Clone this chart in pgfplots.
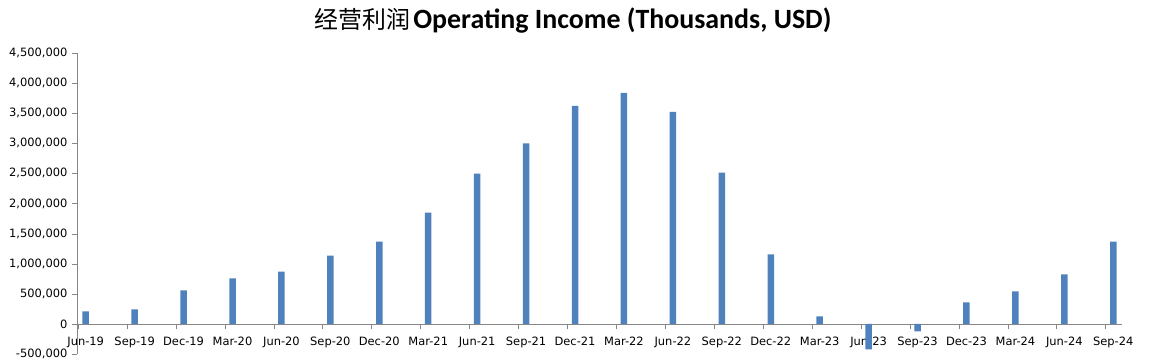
\documentclass[border=0pt]{standalone}
\usepackage{fontspec}
\setmainfont{DejaVu Sans}
\newfontfamily\cjk{Noto Sans CJK SC}
\newfontfamily\titlefont{Carlito}
\usepackage{pgfplots}
\pgfplotsset{compat=1.18}
\definecolor{barblue}{HTML}{4F81BD}
\definecolor{axgray}{HTML}{868686}
\begin{document}
\begin{tikzpicture}[x=1bp,y=1bp]
\path[use as bounding box] (0,0) rectangle (1151,359);
\begin{axis}[
  at={(77bp,5bp)}, anchor=south west,
  scale only axis, width=1045bp, height=301bp,
  xmin=-0.178, xmax=21.178, ymin=-500000, ymax=4500000,
  axis x line*=middle, axis y line*=left,
  x axis line style={axgray,-}, y axis line style={axgray,-},
  ytick={-500000,0,500000,1000000,1500000,2000000,2500000,3000000,3500000,4000000,4500000},
  scaled y ticks=false,
  /pgf/number format/fixed, /pgf/number format/precision=0,
  /pgf/number format/1000 sep={,}, /pgf/number format/assume math mode=true,
  tick label style={font=\fontsize{11.5}{11.5}\selectfont, text=black},
  yticklabel style={xshift=-1bp},
  tick align=outside, major tick length=5bp,
  ytick style={axgray},
  xtick={0,...,21},
  xticklabels={Jun-19,Sep-19,Dec-19,Mar-20,Jun-20,Sep-20,Dec-20,Mar-21,Jun-21,Sep-21,Dec-21,Mar-22,Jun-22,Sep-22,Dec-22,Mar-23,Jun-23,Sep-23,Dec-23,Mar-24,Jun-24,Sep-24},
  xtick style={draw=none},
  xticklabel style={yshift=-5bp},
  extra x ticks={-0.16,0.84,1.84,2.84,3.84,4.84,5.84,6.84,7.84,8.84,9.84,10.84,11.84,12.84,13.84,14.84,15.84,16.84,17.84,18.84,19.84,20.84},
  extra x tick labels={},
  extra x tick style={xtick style={draw=axgray}, grid=none},
]
\addplot[ybar, bar width=6.5bp, bar shift=0pt, fill=barblue, draw=none] coordinates {
(0,207000) (1,240000) (2,556000) (3,755000) (4,870000) (5,1136000)
(6,1368000) (7,1849000) (8,2496000) (9,2998000) (10,3622000) (11,3839000)
(12,3524000) (13,2513000) (14,1153000) (15,124000) (16,-423000) (17,-124000)
(18,357000) (19,539000) (20,821000) (21,1368000)
};
\end{axis}
\node[anchor=base] at (573,331) {{\cjk\fontsize{24}{24}\selectfont 经营利润} {\titlefont\bfseries\fontsize{28}{28}\selectfont Operating Income (Thousands, USD)}};
\end{tikzpicture}
\end{document}
